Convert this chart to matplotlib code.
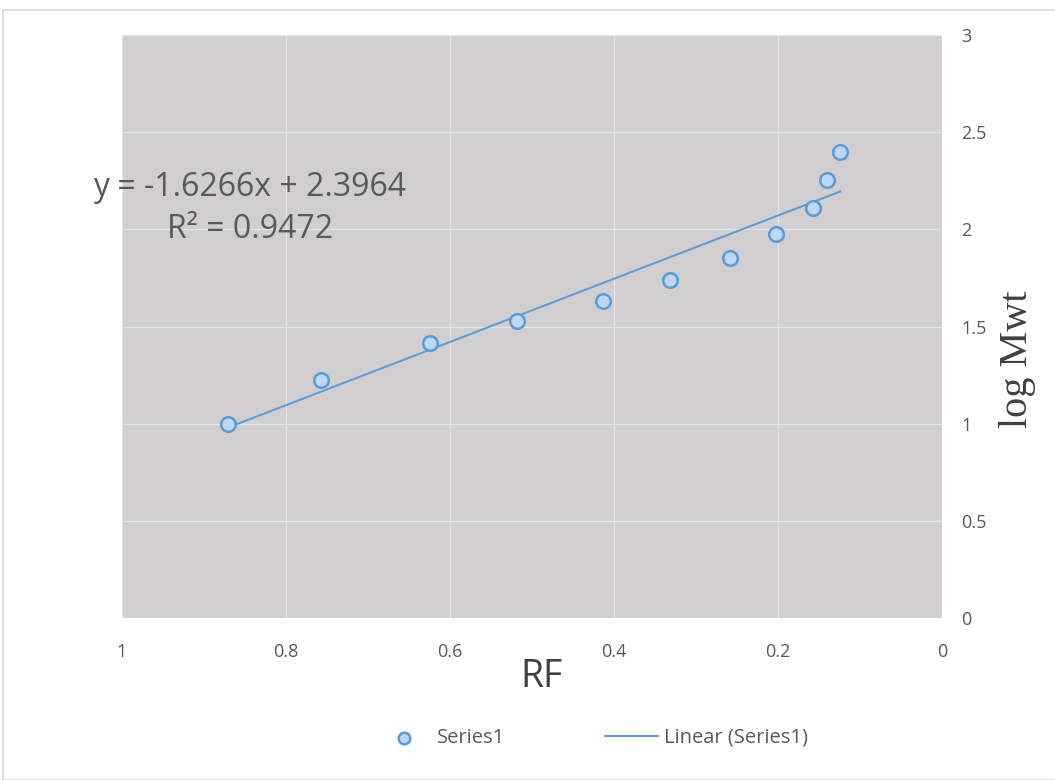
import matplotlib.pyplot as plt
from matplotlib.patches import Rectangle
import numpy as np

# data
rf = [0.871, 0.757, 0.624, 0.518, 0.413, 0.332, 0.259, 0.202, 0.157, 0.140, 0.124]
logMwt = [1.00, 1.225, 1.415, 1.529, 1.631, 1.740, 1.853, 1.976, 2.110, 2.254, 2.398]
slope = -1.6266
intercept = 2.3964
r2 = 0.9472

W, H = 1055, 780
fig = plt.figure(figsize=(W / 100, H / 100), dpi=100)

# chart border
fig.patches.append(Rectangle((3 / W, 0), 1.0, (H - 10) / H, transform=fig.transFigure,
                             fill=False, edgecolor='#D9D9D9', linewidth=1.2))

ax = fig.add_axes([122 / W, 1 - 618 / H, (942 - 122) / W, (618 - 35) / H])
ax.set_facecolor('#D0CECE')

# trendline
xt = np.array([max(rf), min(rf)])
ax.plot(xt, slope * xt + intercept, color='#5B9BD5', linewidth=1.4, label='Linear (Series1)', zorder=2)

ax.scatter(rf, logMwt, s=110, facecolor='#BDD7F5', edgecolor='#5B9BD5', linewidth=1.8,
           label='Series1', zorder=3)

ax.set_xlim(1, 0)
ax.set_ylim(0, 3)
ax.set_xticks([1, 0.8, 0.6, 0.4, 0.2, 0])
ax.set_xticklabels(['1', '0.8', '0.6', '0.4', '0.2', '0'])
ax.set_yticks([0, 0.5, 1, 1.5, 2, 2.5, 3])
ax.set_yticklabels(['0', '0.5', '1', '1.5', '2', '2.5', '3'])
ax.yaxis.tick_right()
ax.grid(True, color='#E4E4E4', linewidth=1.0)
ax.set_axisbelow(True)
for s in ax.spines.values():
    s.set_visible(False)
ax.tick_params(length=0, labelsize=13, labelcolor='#595959')
ax.tick_params(axis='x', pad=18)
ax.tick_params(axis='y', pad=14)
for lbl in ax.get_xticklabels() + ax.get_yticklabels():
    lbl.set_family('Open Sans')

ax.set_xlabel('RF', fontsize=27, color='#404040', family='Open Sans')
ax.xaxis.set_label_coords((541 - 122) / 820, -(658 - 618) / 583)
ax.yaxis.set_label_position('right')
ax.set_ylabel('log Mwt', fontsize=29, color='#404040', family='Liberation Serif')
ax.yaxis.set_label_coords(1.07, 0.443)

fig.text(250 / W, 1 - 187 / H, 'y = %.4fx + %.4f' % (slope, intercept), ha='center', va='center',
         fontsize=23, color='#595959', family='Open Sans')
fig.text(250 / W, 1 - 230 / H, 'R² = %.4f' % r2, ha='center', va='center',
         fontsize=23, color='#595959', family='Open Sans')

h, l = ax.get_legend_handles_labels()
leg = fig.legend([h[1], h[0]], [l[1], l[0]], loc='center', bbox_to_anchor=(593 / W, 1 - 738 / H),
                 ncol=2, frameon=False, columnspacing=5, handlelength=2.6, handletextpad=0.3,
                 prop={'family': 'Open Sans', 'size': 14.5}, labelcolor='#595959')
leg.legend_handles[0].set_sizes([70])

fig.savefig('out.png', dpi=100)
